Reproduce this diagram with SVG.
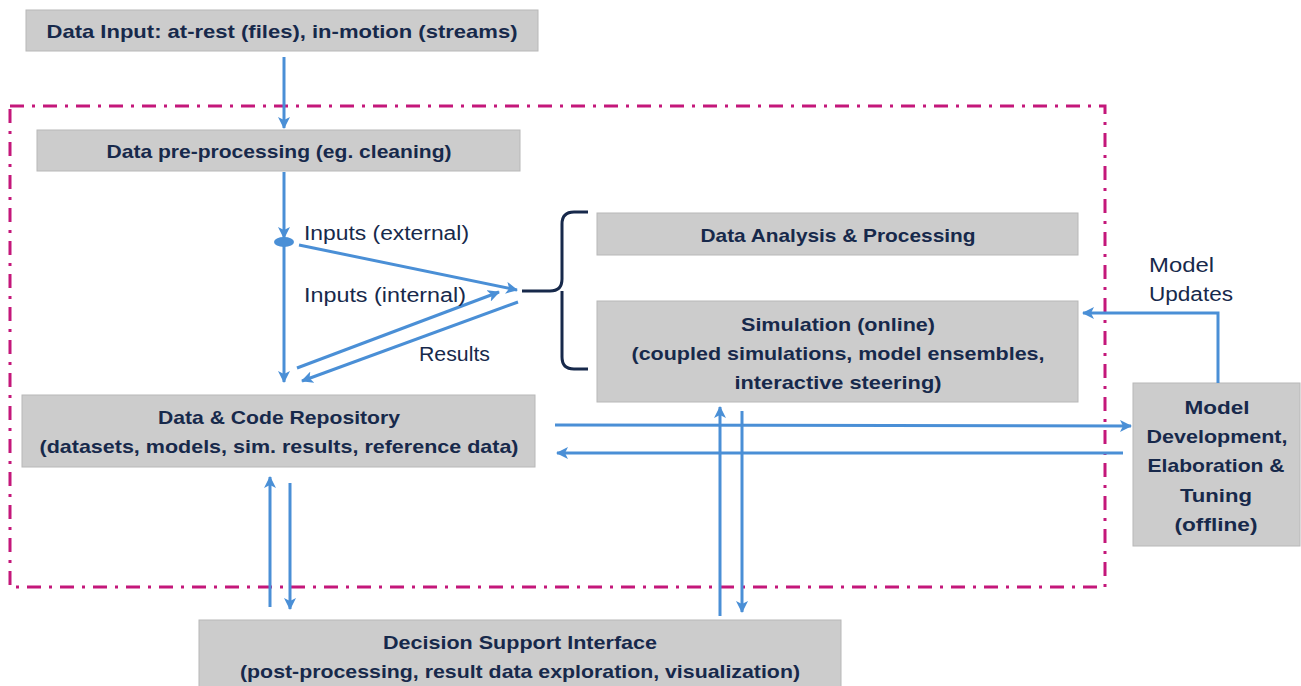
<svg xmlns="http://www.w3.org/2000/svg" width="1301" height="686" viewBox="0 0 1301 686">
<style>
.box{fill:#cccccc;stroke:#b8b8b8;stroke-width:1}
.b{font-family:"Liberation Sans",Arial,sans-serif;font-weight:bold;font-size:19px;fill:#17294b;text-anchor:middle}
.r{font-family:"Liberation Sans",Arial,sans-serif;font-size:20px;fill:#17294b}
.c{fill:none;stroke:#4a8fd6;stroke-width:3}
</style>
<defs>
<marker id="ah" viewBox="0 0 12 12" refX="11" refY="6" markerWidth="12" markerHeight="12" markerUnits="userSpaceOnUse" orient="auto">
<path d="M0,0 L12,6 L0,12 L3,6 z" fill="#4a8fd6"/>
</marker>
</defs>
<rect x="10" y="106" width="1095" height="481" fill="none" stroke="#c4177a" stroke-width="3" stroke-dasharray="14 8 3 8"/>
<g id="n-input"><rect class="box" x="26" y="10" width="512" height="41"/><text class="b" x="282" y="38" textLength="471" lengthAdjust="spacingAndGlyphs">Data Input: at-rest (files), in-motion (streams)</text></g>
<g id="n-pre"><rect class="box" x="37" y="130" width="483" height="41"/><text class="b" x="279" y="158" textLength="345" lengthAdjust="spacingAndGlyphs">Data pre-processing (eg. cleaning)</text></g>
<g id="n-analysis"><rect class="box" x="597" y="213" width="481" height="42"/><text class="b" x="838" y="242" textLength="275" lengthAdjust="spacingAndGlyphs">Data Analysis &amp; Processing</text></g>
<g id="n-sim"><rect class="box" x="597" y="301" width="481" height="101"/>
<text class="b" x="838" y="331" textLength="194" lengthAdjust="spacingAndGlyphs">Simulation (online)</text>
<text class="b" x="838" y="360" textLength="413" lengthAdjust="spacingAndGlyphs">(coupled simulations, model ensembles,</text>
<text class="b" x="838" y="389" textLength="207" lengthAdjust="spacingAndGlyphs">interactive steering)</text></g>
<g id="n-repo"><rect class="box" x="22" y="395" width="513" height="72"/>
<text class="b" x="279" y="424" textLength="242" lengthAdjust="spacingAndGlyphs">Data &amp; Code Repository</text>
<text class="b" x="279" y="453" textLength="479" lengthAdjust="spacingAndGlyphs">(datasets, models, sim. results, reference data)</text></g>
<g id="n-model"><rect class="box" x="1133" y="383" width="167" height="163"/>
<text class="b" x="1217" y="414" textLength="65" lengthAdjust="spacingAndGlyphs">Model</text>
<text class="b" x="1217" y="443" textLength="141" lengthAdjust="spacingAndGlyphs">Development,</text>
<text class="b" x="1216" y="472" textLength="137" lengthAdjust="spacingAndGlyphs">Elaboration &amp;</text>
<text class="b" x="1216" y="502" textLength="72" lengthAdjust="spacingAndGlyphs">Tuning</text>
<text class="b" x="1216" y="531" textLength="83" lengthAdjust="spacingAndGlyphs">(offline)</text></g>
<g id="n-decision"><rect class="box" x="199" y="620" width="642" height="70"/>
<text class="b" x="520" y="649" textLength="274" lengthAdjust="spacingAndGlyphs">Decision Support Interface</text>
<text class="b" x="520" y="678" textLength="560" lengthAdjust="spacingAndGlyphs">(post-processing, result data exploration, visualization)</text></g>
<g id="connectors">
<line class="c" x1="284" y1="57" x2="284" y2="128" marker-end="url(#ah)"/>
<line class="c" x1="284" y1="172" x2="284" y2="238" marker-end="url(#ah)"/>
<ellipse cx="284" cy="242" rx="10" ry="5" fill="#4a8fd6"/>
<line class="c" x1="284" y1="246" x2="284" y2="382" marker-end="url(#ah)"/>
<line class="c" x1="299" y1="245" x2="517" y2="290" marker-end="url(#ah)"/>
<line class="c" x1="297" y1="368" x2="499" y2="292" marker-end="url(#ah)"/>
<line class="c" x1="518" y1="302" x2="302" y2="381" marker-end="url(#ah)"/>
<path d="M522,291 H550 Q562,291 562,279 V224 Q562,212 574,212 H588 M562,291 V357 Q562,369 574,369 H588" fill="none" stroke="#17294b" stroke-width="3"/>
<polyline class="c" points="1218,383 1218,313 1083,313" marker-end="url(#ah)"/>
<line class="c" x1="555" y1="425" x2="1131" y2="426" marker-end="url(#ah)"/>
<line class="c" x1="1123" y1="453" x2="557" y2="453" marker-end="url(#ah)"/>
<line class="c" x1="270" y1="607" x2="270" y2="477" marker-end="url(#ah)"/>
<line class="c" x1="290" y1="483" x2="290" y2="609" marker-end="url(#ah)"/>
<line class="c" x1="720" y1="616" x2="720" y2="407" marker-end="url(#ah)"/>
<line class="c" x1="742" y1="411" x2="742" y2="612" marker-end="url(#ah)"/>
<text class="r" x="304" y="240" textLength="165" lengthAdjust="spacingAndGlyphs">Inputs (external)</text>
<text class="r" x="304" y="302" textLength="162" lengthAdjust="spacingAndGlyphs">Inputs (internal)</text>
<text class="r" x="419" y="361" textLength="71" lengthAdjust="spacingAndGlyphs">Results</text>
<text class="r" x="1149" y="272" textLength="65" lengthAdjust="spacingAndGlyphs">Model</text>
<text class="r" x="1149" y="301" textLength="84" lengthAdjust="spacingAndGlyphs">Updates</text>
</g>
</svg>
